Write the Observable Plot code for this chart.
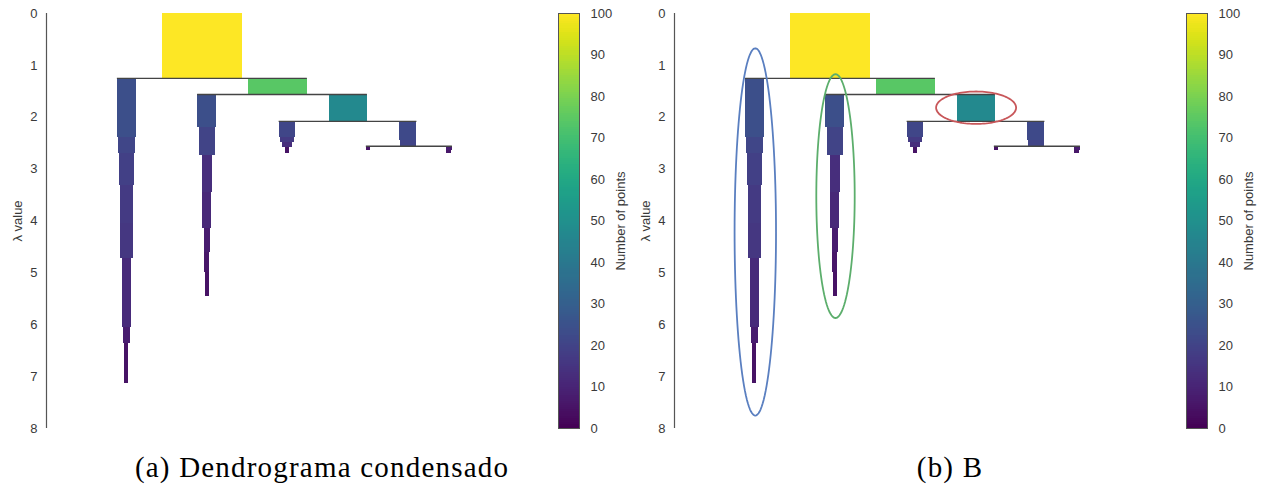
<!DOCTYPE html>
<html><head><meta charset="utf-8">
<script src="https://cdn.jsdelivr.net/npm/d3@7"></script>
<script src="https://cdn.jsdelivr.net/npm/@observablehq/plot@0.6"></script>
<style>
body{margin:0;background:#fff;}
#root{position:relative;width:1271px;height:489px;overflow:hidden;font-family:"Liberation Sans",Arial,sans-serif;}
.abs{position:absolute;top:0;}
.caption{position:absolute;top:453px;font-family:"Liberation Serif","Times New Roman",serif;font-size:29px;letter-spacing:1.2px;line-height:29px;color:#000;white-space:nowrap;transform:translateX(-50%);}
</style></head><body><div id="root"></div>
<script>
// ---- data: condensed tree (x in "points" units, lambda values) ----
const clusterIds    = ["root", "A", "G", "B", "T", "C", "D", "E", "F"];
const clusterCenter = [194.6, 100.6, 289, 201, 377.5, 301.3, 452, 402.3, 503.4];

const stepCluster     = ["root","G","T",
  "A","A","A","A","A","A","A","A",
  "B","B","B","B","B","B","B",
  "C","C","C","C",
  "D","D",
  "E",
  "F","F"];
const stepLambdaStart = [0, 1.25, 1.56,
  1.25, 2.39, 2.70, 3.32, 4.05, 4.72, 6.05, 6.36,
  1.56, 2.20, 2.74, 3.45, 4.14, 4.61, 4.99,
  2.08, 2.39, 2.49, 2.58,
  2.08, 2.45,
  2.56,
  2.56, 2.64];
const stepLambdaEnd   = [1.25, 1.56, 2.08,
  2.39, 2.70, 3.32, 4.05, 4.72, 6.05, 6.36, 7.13,
  2.20, 2.74, 3.45, 4.14, 4.61, 4.99, 5.46,
  2.39, 2.49, 2.58, 2.70,
  2.45, 2.56,
  2.64,
  2.64, 2.70];
const stepPoints      = [100, 74, 47,
  24, 21, 19, 17, 16, 12, 8, 5,
  24, 20, 13, 11, 8, 6, 5,
  21, 17, 13, 5,
  22, 20,
  5,
  8, 6];

const splitLambda = [1.25, 1.56, 2.08, 2.56];
const splitLeft   = ["A", "B", "C", "E"];
const splitRight  = ["G", "T", "D", "F"];

const yTicks = [0, 1, 2, 3, 4, 5, 6, 7, 8];
const colorbarTicks = [0, 10, 20, 30, 40, 50, 60, 70, 80, 90, 100];

// annotation ellipses for panel (b)
const ellipseTarget       = ["A", "B", "T"];
const ellipseCenterX      = [101, 201.25, 377];
const ellipseCenterLambda = [4.21, 3.52, 1.816];
const ellipseHalfWidth    = [25.9, 24, 50];
const ellipseHalfHeight   = [3.54, 2.35, 0.312];
const ellipseColors       = ["#5a7fc0", "#5cae6c", "#c8575a"];

const captions = ["(a) Dendrograma condensado", "(b) B"];

// ---- build tables ----
const centerOf = Object.fromEntries(clusterIds.map((c, i) => [c, clusterCenter[i]]));
const steps = stepCluster.map((c, i) => ({
  cluster: c, center: centerOf[c], l0: stepLambdaStart[i], l1: stepLambdaEnd[i], points: stepPoints[i]
}));
const firstWidth = c => steps.find(s => s.cluster === c).points;
const splits = splitLambda.map((l, i) => ({
  lambda: l,
  x1: centerOf[splitLeft[i]] - firstWidth(splitLeft[i]) / 2,
  x2: centerOf[splitRight[i]] + firstWidth(splitRight[i]) / 2
}));

const colorScale = {type: "linear", scheme: "viridis", domain: [0, 100]};
const PX_PER_POINT = 0.8;
const FS = 13;
const baseStyle = "background: transparent; max-width: none; overflow: visible; font-family: 'Liberation Sans', Arial, sans-serif; font-size: 13px; color: #3a3a3a;";

function dendro(withEllipses) {
  const W = 546, H = 440, ML = 46;
  const marks = [
    Plot.rect(steps, {
      x1: d => d.center - d.points / 2,
      x2: d => d.center + d.points / 2,
      y1: "l0", y2: "l1", fill: "points", shapeRendering: "crispEdges"
    }),
    Plot.ruleY(splits, {y: "lambda", x1: "x1", x2: "x2", stroke: "#444", strokeWidth: 1.4}),
    Plot.ruleX([0], {y1: 0, y2: 8, stroke: "#555", strokeWidth: 1.2}),
    Plot.axisY({ticks: yTicks, tickSize: 0, tickPadding: 9, fontSize: FS, label: "λ value",
      labelAnchor: "center", labelArrow: "none", labelOffset: 34})
  ];
  if (withEllipses) {
    ellipseTarget.forEach((t, i) => {
      const pts = d3.range(0, 361, 3).map(a => {
        const r = a * Math.PI / 180;
        return {x: ellipseCenterX[i] + ellipseHalfWidth[i] * Math.cos(r),
                y: ellipseCenterLambda[i] + ellipseHalfHeight[i] * Math.sin(r)};
      });
      marks.push(Plot.line(pts, {x: "x", y: "y", stroke: ellipseColors[i], strokeWidth: 1.8}));
    });
  }
  return Plot.plot({
    width: W, height: H, marginTop: 13, marginBottom: 12, marginLeft: ML, marginRight: 0,
    x: {domain: [0, (W - ML) / PX_PER_POINT], axis: null},
    y: {domain: [0, 8], reverse: true},
    color: colorScale,
    style: baseStyle,
    marks
  });
}

function colorbar() {
  return Plot.plot({
    width: 110, height: 440, marginTop: 13, marginBottom: 12, marginLeft: 18, marginRight: 71,
    x: {domain: [0, 1], axis: null},
    y: {domain: [0, 100]},
    color: colorScale,
    style: baseStyle,
    marks: [
      Plot.rect(d3.range(0, 100, 0.5), {x1: 0, x2: 1, y1: d => d, y2: d => d + 0.5, fill: d => d + 0.25, shapeRendering: "crispEdges"}),
      Plot.frame({stroke: "#555", strokeWidth: 1}),
      Plot.axisY({anchor: "right", ticks: colorbarTicks, tickSize: 0, tickPadding: 11, fontSize: FS,
        label: "Number of points", labelAnchor: "center", labelArrow: "none", labelOffset: 45})
    ]
  });
}

const root = document.getElementById("root");
function place(node, left) {
  const d = document.createElement("div");
  d.className = "abs";
  d.style.left = left + "px";
  d.appendChild(node);
  root.appendChild(d);
}
place(dendro(false), 0);
place(colorbar(), 540);
place(dendro(true), 627.5);
place(colorbar(), 1168);

[[captions[0], 322], [captions[1], 950]].forEach(([t, x]) => {
  const c = document.createElement("div");
  c.className = "caption";
  c.style.left = x + "px";
  c.textContent = t;
  root.appendChild(c);
});
</script></body></html>
